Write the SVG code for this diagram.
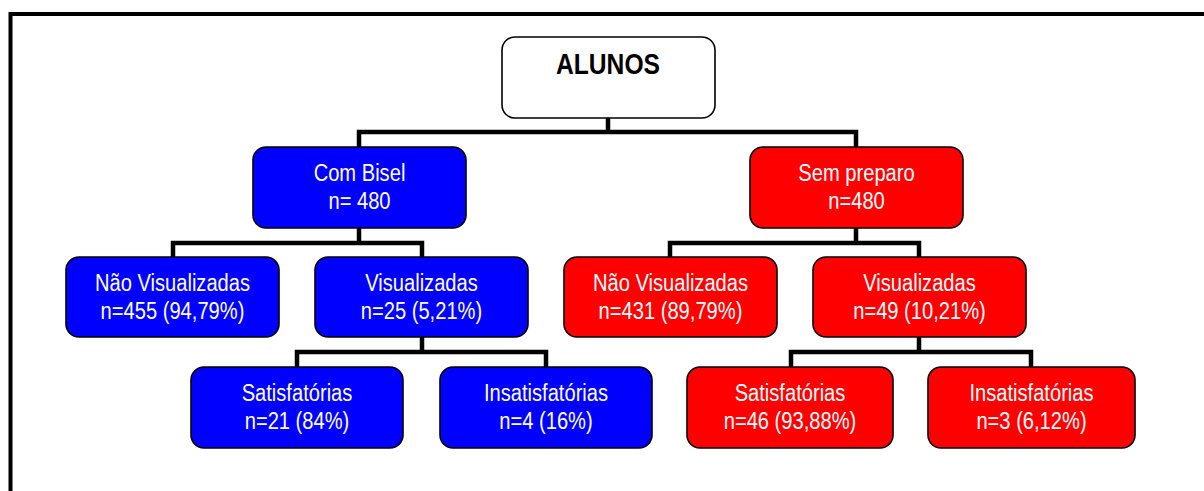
<svg xmlns="http://www.w3.org/2000/svg" width="1204" height="491" viewBox="0 0 1204 491">
<style>
.box{stroke:#000;stroke-width:1.6}
.blue{fill:#0000FF}
.red{fill:#FF0000}
.white{fill:#FFFFFF}
.t{font-family:"Liberation Sans",Arial,sans-serif;font-size:23px;fill:#FFFFFF;text-anchor:middle}
.title{font-family:"Liberation Sans",Arial,sans-serif;font-size:29px;font-weight:bold;fill:#000;text-anchor:middle}
.conn{fill:none;stroke:#000;stroke-width:4.5}
</style>
<rect x="0" y="0" width="1204" height="491" fill="#FFFFFF"/>
<path d="M10.5,491 V14 H1204" fill="none" stroke="#000" stroke-width="4"/>
<g id="connectors">
<path class="conn" d="M608,118 V132 M359,147 V132 H856 V147"/>
<path class="conn" d="M359,228 V243 M173,257 V243 H422 V257"/>
<path class="conn" d="M856,228 V243 M670,257 V243 H919 V257"/>
<path class="conn" d="M422,337 V352 M297,367 V352 H546 V367"/>
<path class="conn" d="M919,337 V352 M791,367 V352 H1031 V367"/>
</g>
<g id="alunos">
<rect class="box white" x="502" y="37" width="213" height="81" rx="13"/>
<text class="title" x="608" y="74" textLength="104" lengthAdjust="spacingAndGlyphs">ALUNOS</text>
</g>
<g id="com-bisel">
<rect class="box blue" x="253" y="147" width="213" height="81" rx="13"/>
<text class="t" transform="translate(359.5,0) scale(0.875,1)" y="181">Com Bisel</text>
<text class="t" transform="translate(359.5,0) scale(0.875,1)" y="209">n= 480</text>
</g>
<g id="sem-preparo">
<rect class="box red" x="750" y="147" width="213" height="81" rx="13"/>
<text class="t" transform="translate(856.5,0) scale(0.875,1)" y="181">Sem preparo</text>
<text class="t" transform="translate(856.5,0) scale(0.875,1)" y="209">n=480</text>
</g>
<g id="bisel-nao-vis">
<rect class="box blue" x="66" y="257" width="213" height="80" rx="13"/>
<text class="t" transform="translate(172.5,0) scale(0.875,1)" y="291">Não Visualizadas</text>
<text class="t" transform="translate(172.5,0) scale(0.875,1)" y="319">n=455 (94,79%)</text>
</g>
<g id="bisel-vis">
<rect class="box blue" x="315" y="257" width="213" height="80" rx="13"/>
<text class="t" transform="translate(421.5,0) scale(0.875,1)" y="291">Visualizadas</text>
<text class="t" transform="translate(421.5,0) scale(0.875,1)" y="319">n=25 (5,21%)</text>
</g>
<g id="sem-nao-vis">
<rect class="box red" x="564" y="257" width="213" height="80" rx="13"/>
<text class="t" transform="translate(670.5,0) scale(0.875,1)" y="291">Não Visualizadas</text>
<text class="t" transform="translate(670.5,0) scale(0.875,1)" y="319">n=431 (89,79%)</text>
</g>
<g id="sem-vis">
<rect class="box red" x="813" y="257" width="213" height="80" rx="13"/>
<text class="t" transform="translate(919.5,0) scale(0.875,1)" y="291">Visualizadas</text>
<text class="t" transform="translate(919.5,0) scale(0.875,1)" y="319">n=49 (10,21%)</text>
</g>
<g id="bisel-satisf">
<rect class="box blue" x="191" y="367" width="212" height="81" rx="13"/>
<text class="t" transform="translate(297,0) scale(0.875,1)" y="401">Satisfatórias</text>
<text class="t" transform="translate(297,0) scale(0.875,1)" y="429">n=21 (84%)</text>
</g>
<g id="bisel-insatisf">
<rect class="box blue" x="440" y="367" width="212" height="81" rx="13"/>
<text class="t" transform="translate(546,0) scale(0.875,1)" y="401">Insatisfatórias</text>
<text class="t" transform="translate(546,0) scale(0.875,1)" y="429">n=4 (16%)</text>
</g>
<g id="sem-satisf">
<rect class="box red" x="687" y="367" width="206" height="81" rx="13"/>
<text class="t" transform="translate(790,0) scale(0.875,1)" y="401">Satisfatórias</text>
<text class="t" transform="translate(790,0) scale(0.875,1)" y="429">n=46 (93,88%)</text>
</g>
<g id="sem-insatisf">
<rect class="box red" x="928" y="367" width="207" height="81" rx="13"/>
<text class="t" transform="translate(1031.5,0) scale(0.875,1)" y="401">Insatisfatórias</text>
<text class="t" transform="translate(1031.5,0) scale(0.875,1)" y="429">n=3 (6,12%)</text>
</g>
</svg>
